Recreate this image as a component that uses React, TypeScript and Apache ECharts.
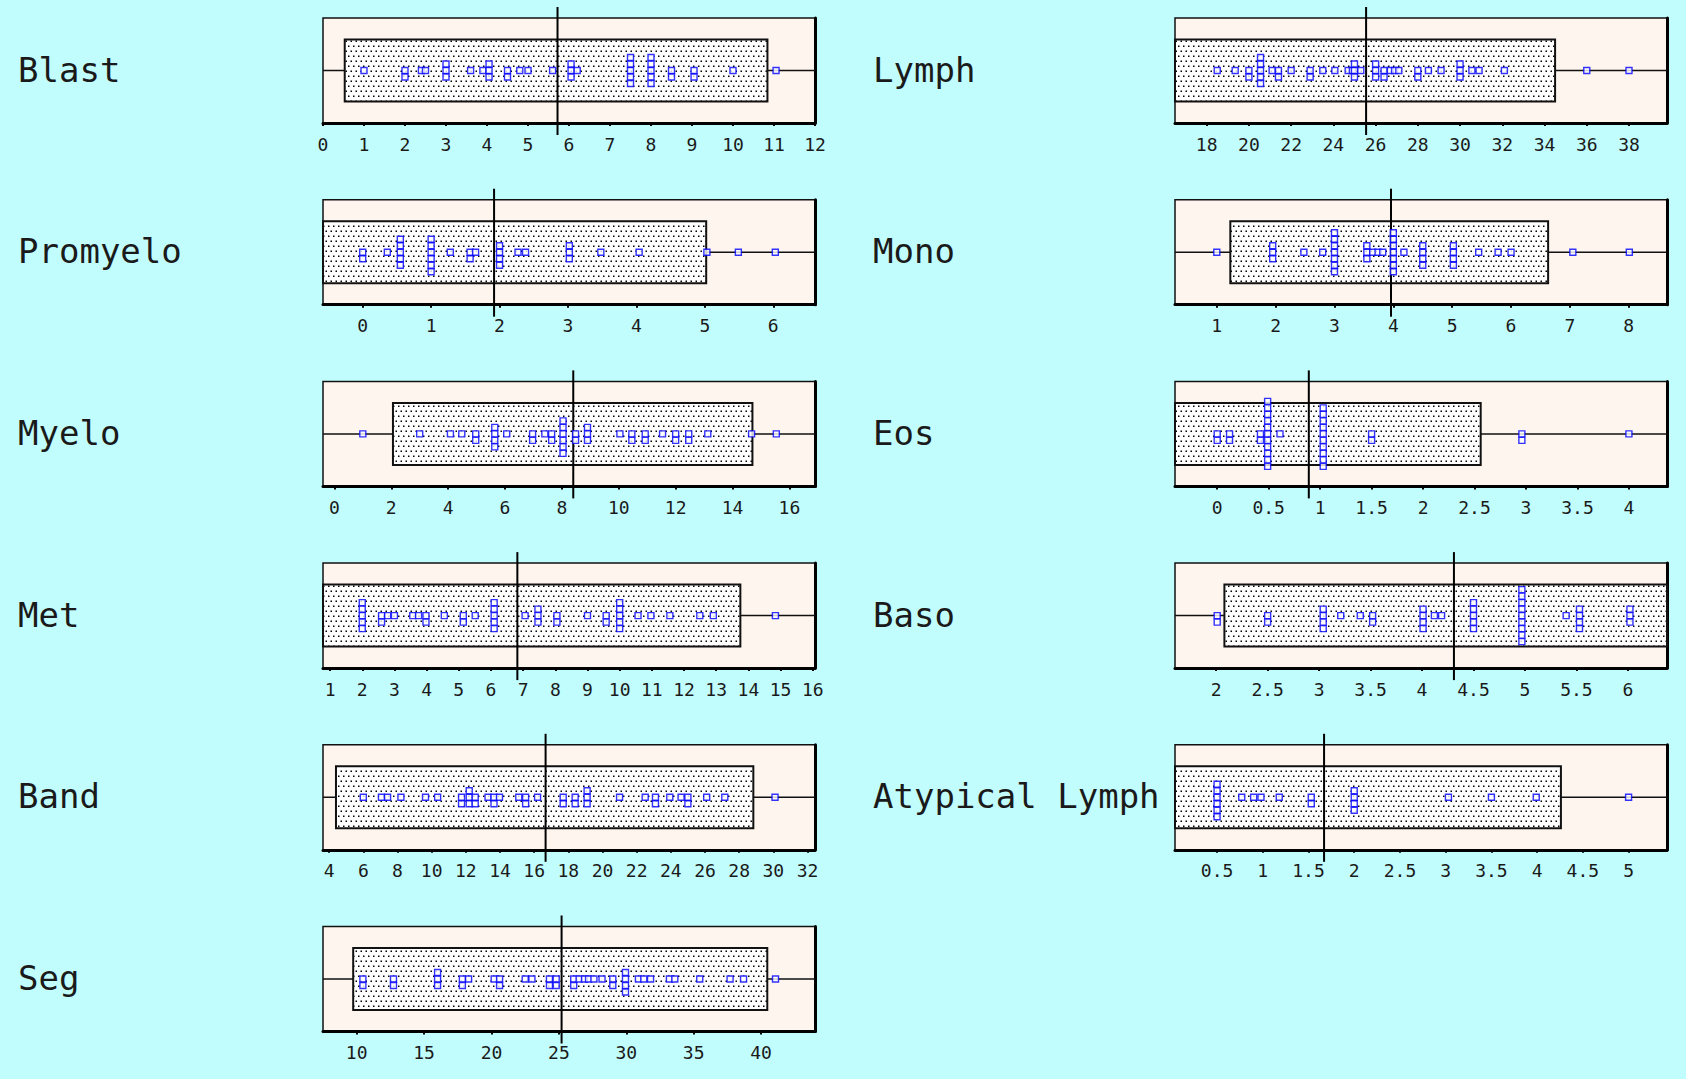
import React, { useEffect, useRef } from 'react';
import * as echarts from 'echarts';

// ---------- data ----------
const panelNames = ['Blast', 'Promyelo', 'Myelo', 'Met', 'Band', 'Seg', 'Lymph', 'Mono', 'Eos', 'Baso', 'Atypical Lymph'];

const blastObs = [1, 2, 2, 2.4, 2.5, 3, 3, 3, 3.6, 3.9, 4.05, 4.05, 4.05, 4.5, 4.5, 4.8, 5, 5.6, 6.05, 6.05, 6.05, 6.2, 7.5, 7.5, 7.5, 7.5, 7.5, 8, 8, 8, 8, 8, 8.5, 8.5, 9.05, 9.05, 10, 11.05];
const promyeloObs = [0, 0, 0.36, 0.55, 0.55, 0.55, 0.55, 0.55, 1, 1, 1, 1, 1, 1, 1.28, 1.57, 1.57, 1.65, 2, 2, 2, 2, 2.27, 2.38, 3.02, 3.02, 3.02, 3.48, 4.04, 5.03, 5.49, 6.03];
const myeloObs = [1, 3, 4.08, 4.48, 4.97, 4.97, 5.64, 5.64, 5.64, 5.64, 6.06, 6.97, 6.97, 7.4, 7.64, 7.64, 8.04, 8.04, 8.04, 8.04, 8.04, 8.04, 8.48, 8.48, 8.9, 8.9, 8.9, 10.04, 10.46, 10.46, 10.93, 10.93, 11.54, 12, 12, 12.46, 12.46, 13.13, 14.67, 15.54];
const metObs = [2, 2, 2, 2, 2, 2.6, 2.6, 2.79, 3, 3.57, 3.75, 3.98, 3.98, 4.55, 5.14, 5.14, 5.51, 6.1, 6.1, 6.1, 6.1, 6.1, 7.06, 7.46, 7.46, 7.46, 8.05, 8.05, 9, 9.58, 9.58, 10, 10, 10, 10, 10, 10.57, 10.97, 11.56, 12.49, 12.91, 14.84];
const bandObs = [6, 7.06, 7.42, 8.2, 9.64, 10.35, 11.75, 11.75, 12.2, 12.2, 12.2, 12.55, 12.55, 13.3, 13.65, 13.65, 13.97, 15.1, 15.5, 15.5, 16.2, 17.7, 17.7, 18.4, 18.4, 19.1, 19.1, 19.1, 21, 22.5, 23.1, 23.1, 23.94, 24.6, 25, 25, 26.1, 27.16, 30.1];
const segObs = [10.46, 10.46, 12.73, 12.73, 16, 16, 16, 17.84, 17.84, 18.3, 20.2, 20.6, 20.6, 22.5, 23, 24.3, 24.3, 24.8, 24.8, 26.1, 26.1, 26.5, 26.9, 27.2, 27.6, 28.2, 29, 29, 29.94, 29.94, 29.94, 29.94, 30.9, 31.3, 31.8, 33.2, 33.6, 35.45, 37.7, 38.7, 41.07];
const lymphObs = [18.5, 19.35, 20, 20, 20.55, 20.55, 20.55, 20.55, 20.55, 21.1, 21.4, 21.4, 22, 22.9, 22.9, 23.5, 24.07, 24.7, 24.9, 25, 25, 25, 25.3, 26, 26, 26, 26.4, 26.4, 26.7, 26.9, 27.1, 28, 28, 28.5, 29.1, 30, 30, 30, 30.56, 30.9, 32.1, 36, 38];
const monoObs = [1, 1.95, 1.95, 1.95, 2.48, 2.8, 3, 3, 3, 3, 3, 3, 3, 3.55, 3.55, 3.55, 3.65, 3.74, 3.82, 4, 4, 4, 4, 4, 4, 4, 4.18, 4.5, 4.5, 4.5, 4.5, 5.02, 5.02, 5.02, 5.02, 5.45, 5.78, 6, 7.05, 8.01];
const eosObs = [0, 0, 0.12, 0.12, 0.42, 0.42, 0.49, 0.49, 0.49, 0.49, 0.49, 0.49, 0.49, 0.49, 0.49, 0.49, 0.49, 0.61, 1.03, 1.03, 1.03, 1.03, 1.03, 1.03, 1.03, 1.03, 1.03, 1.03, 1.5, 1.5, 2.96, 2.96, 4];
const basoObs = [2.01, 2.01, 2.5, 2.5, 3.04, 3.04, 3.04, 3.04, 3.21, 3.4, 3.52, 3.52, 4.01, 4.01, 4.01, 4.01, 4.12, 4.19, 4.5, 4.5, 4.5, 4.5, 4.5, 4.97, 4.97, 4.97, 4.97, 4.97, 4.97, 4.97, 4.97, 4.97, 5.4, 5.53, 5.53, 5.53, 5.53, 6.02, 6.02, 6.02];
const atypicalObs = [0.5, 0.5, 0.5, 0.5, 0.5, 0.5, 0.77, 0.9, 0.98, 1.18, 1.53, 1.53, 2, 2, 2, 2, 3.03, 3.5, 3.99, 5];

const observations = [blastObs, promyeloObs, myeloObs, metObs, bandObs, segObs, lymphObs, monoObs, eosObs, basoObs, atypicalObs];

// box (range) ends and centre line, per panel (same order as panelNames)
const boxLow = [0.53, -1, 2.06, 0, 4.4, 9.74, 16, 1.23, -1, 2.08, 0];
const boxHigh = [10.84, 5.02, 14.7, 13.75, 28.83, 40.46, 34.5, 6.63, 2.56, 7, 4.26];
const meanLine = [5.72, 1.92, 8.4, 6.82, 16.67, 25.2, 25.55, 3.96, 0.89, 4.31, 1.67];

// axis extents and tick labels
const axisMin = [0, -0.58, -0.4, 0.78, 3.64, 7.5, 16.5, 0.29, -0.41, 1.6, 0.04];
const axisMax = [12, 6.61, 16.9, 16.07, 32.44, 44, 39.8, 8.65, 4.37, 6.38, 5.42];
const blastTicks = [0, 1, 2, 3, 4, 5, 6, 7, 8, 9, 10, 11, 12];
const promyeloTicks = [0, 1, 2, 3, 4, 5, 6];
const myeloTicks = [0, 2, 4, 6, 8, 10, 12, 14, 16];
const metTicks = [1, 2, 3, 4, 5, 6, 7, 8, 9, 10, 11, 12, 13, 14, 15, 16];
const bandTicks = [4, 6, 8, 10, 12, 14, 16, 18, 20, 22, 24, 26, 28, 30, 32];
const segTicks = [10, 15, 20, 25, 30, 35, 40];
const lymphTicks = [18, 20, 22, 24, 26, 28, 30, 32, 34, 36, 38];
const monoTicks = [1, 2, 3, 4, 5, 6, 7, 8];
const eosTicks = [0, 0.5, 1, 1.5, 2, 2.5, 3, 3.5, 4];
const basoTicks = [2, 2.5, 3, 3.5, 4, 4.5, 5, 5.5, 6];
const atypicalTicks = [0.5, 1, 1.5, 2, 2.5, 3, 3.5, 4, 4.5, 5];
const tickLists = [blastTicks, promyeloTicks, myeloTicks, metTicks, bandTicks, segTicks, lymphTicks, monoTicks, eosTicks, basoTicks, atypicalTicks];

// ---------- layout ----------
const W = 1686;
const H = 1079;
const panelCol = [0, 0, 0, 0, 0, 0, 1, 1, 1, 1, 1];
const panelRow = [0, 1, 2, 3, 4, 5, 0, 1, 2, 3, 4];
const COL_LEFT = [323, 1175];
const TITLE_X = [18, 873];
const PLOT_W = 492;
const PLOT_H = 105;
const ROW_TOP0 = 18;
const ROW_PITCH = 181.7;
const Y_HALF = 52.5;
const BOX_HALF = 31;
const STACK_STEP = 6.5;

function stackPoints(obs: number[]) {
  const counts = new Map<number, number>();
  const pts: number[][] = [];
  for (const v of obs) {
    const k = counts.get(v) ?? 0;
    counts.set(v, k + 1);
    const off = k === 0 ? 0 : k % 2 === 1 ? -Math.ceil(k / 2) : k / 2;
    pts.push([v, off * STACK_STEP]);
  }
  return pts;
}

function makeDots() {
  // drawn at 2x, shown as a 10x10 tile
  const c = document.createElement('canvas');
  c.width = 20;
  c.height = 20;
  const ctx = c.getContext('2d')!;
  ctx.fillStyle = '#ffffff';
  ctx.fillRect(0, 0, 20, 20);
  ctx.fillStyle = '#000000';
  const d = 3;
  ctx.fillRect(1, 1, d, d);
  ctx.fillRect(11, 1, d, d);
  ctx.fillRect(6, 11, d, d);
  ctx.fillRect(16, 11, d, d);
  return { image: c.toDataURL(), repeat: 'repeat', imageWidth: 10, imageHeight: 10 } as any;
}

export default function App() {
  const ref = useRef<HTMLDivElement>(null);
  useEffect(() => {
    if (!ref.current) return;
    const chart = echarts.init(ref.current, null, { renderer: 'svg', width: W, height: H });
    const dots = makeDots();

    const grid: any[] = [];
    const xAxis: any[] = [];
    const yAxis: any[] = [];
    const series: any[] = [];
    const graphic: any[] = [];

    panelNames.forEach((name, i) => {
      const top = ROW_TOP0 + panelRow[i] * ROW_PITCH;
      const left = COL_LEFT[panelCol[i]];
      grid.push({
        left,
        top,
        width: PLOT_W,
        height: PLOT_H,
        show: true,
        backgroundColor: '#fef5ee',
        borderColor: '#111',
        borderWidth: 1.5,
        containLabel: false,
      });
      xAxis.push({
        type: 'value',
        gridIndex: i,
        min: axisMin[i],
        max: axisMax[i],
        splitLine: { show: false },
        axisLine: { show: true, onZero: false, lineStyle: { color: '#000', width: 3 } },
        axisTick: { show: true, customValues: tickLists[i], length: 3, lineStyle: { color: '#000', width: 2 } },
        axisLabel: {
          customValues: tickLists[i],
          margin: 12,
          fontFamily: 'DejaVu Sans Mono',
          fontSize: 18,
          color: '#1a1a1a',
          formatter: (v: number) => String(v),
        },
      });
      yAxis.push({
        type: 'value',
        gridIndex: i,
        min: -Y_HALF,
        max: Y_HALF,
        position: 'right',
        axisLine: { show: true, onZero: false, lineStyle: { color: '#000', width: 3 } },
        axisTick: { show: false },
        axisLabel: { show: false },
        splitLine: { show: false },
      });
      series.push({
        type: 'custom',
        xAxisIndex: i,
        yAxisIndex: i,
        silent: true,
        z: 2,
        data: [[boxLow[i], boxHigh[i], meanLine[i], axisMin[i], axisMax[i]]],
        renderItem: (params: any, api: any) => {
          const lo = api.value(0);
          const hi = api.value(1);
          const mean = api.value(2);
          const xmin = api.value(3);
          const xmax = api.value(4);
          const cs = params.coordSys;
          const pL = api.coord([xmin, 0]);
          const pR = api.coord([xmax, 0]);
          const a = api.coord([lo, BOX_HALF]);
          const b = api.coord([hi, -BOX_HALF]);
          const rect = echarts.graphic.clipRectByRect(
            { x: a[0], y: a[1], width: b[0] - a[0], height: b[1] - a[1] },
            { x: cs.x, y: cs.y, width: cs.width, height: cs.height }
          );
          const m = api.coord([mean, 0]);
          return {
            type: 'group',
            children: [
              { type: 'line', shape: { x1: pL[0], y1: pL[1], x2: pR[0], y2: pR[1] }, style: { stroke: '#111', lineWidth: 1.5 } },
              rect
                ? { type: 'rect', shape: rect, style: { fill: dots, stroke: '#111', lineWidth: 2 } }
                : { type: 'group', children: [] },
              { type: 'line', shape: { x1: m[0], y1: cs.y - 11, x2: m[0], y2: cs.y + cs.height + 12 }, style: { stroke: '#000', lineWidth: 2 } },
            ],
          };
        },
      });
      series.push({
        type: 'scatter',
        xAxisIndex: i,
        yAxisIndex: i,
        silent: true,
        z: 3,
        symbol: 'rect',
        symbolSize: 6,
        itemStyle: { color: '#ffffff', borderColor: '#0000ff', borderWidth: 1.4 },
        data: stackPoints(observations[i]),
      });
      graphic.push({
        type: 'text',
        x: TITLE_X[panelCol[i]],
        y: top + PLOT_H / 2 - 1,
        silent: true,
        style: {
          text: name,
          font: '34px "DejaVu Sans Mono"',
          fill: '#1a1a1a',
          verticalAlign: 'middle',
          textVerticalAlign: 'middle',
        },
      });
    });

    chart.setOption({
      animation: false,
      backgroundColor: '#c2fdfd',
      grid,
      xAxis,
      yAxis,
      series,
      graphic,
    });
    return () => chart.dispose();
  }, []);

  return <div ref={ref} style={{ position: 'fixed', left: 0, top: 0, width: W, height: H }} />;
}
